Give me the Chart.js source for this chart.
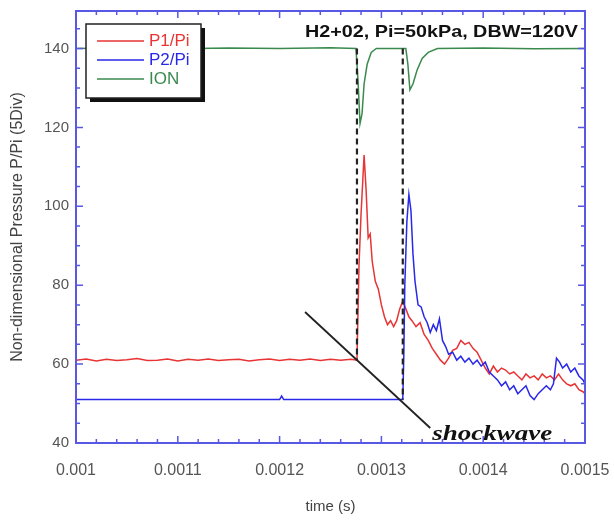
<!DOCTYPE html>
<html>
<head>
<meta charset="utf-8">
<script src="https://cdn.jsdelivr.net/npm/chart.js@4.4.0/dist/chart.umd.min.js"></script>
<style>
  html, body { margin: 0; padding: 0; background: #fff; }
  #wrap { width: 614px; height: 520px; }
</style>
</head>
<body>
<div id="wrap"><canvas id="shockChart"></canvas></div>
<script>
// tick labels
const xTicks = [0.001, 0.0011, 0.0012, 0.0013, 0.0014, 0.0015];
const yTicks = [40, 60, 80, 100, 120, 140];

// P1/Pi (red)
const tP1 = [0.00100, 0.00101, 0.00102, 0.00103, 0.00104, 0.00105, 0.00106, 0.00107, 0.00108, 0.00109,
  0.00110, 0.00111, 0.00112, 0.00113, 0.00114, 0.00115, 0.00116, 0.00117, 0.00118, 0.00119,
  0.00120, 0.00121, 0.00122, 0.00123, 0.00124, 0.00125, 0.00126, 0.00127, 0.001276,
  0.001278, 0.001280, 0.001283, 0.001285, 0.001287, 0.001289, 0.001291, 0.001294, 0.001297, 0.001300,
  0.001303, 0.001306, 0.001309, 0.001312, 0.001315, 0.001318, 0.001321, 0.001324, 0.001327, 0.001330,
  0.001334, 0.001338, 0.001342, 0.001346, 0.001350, 0.001354, 0.001358, 0.001362, 0.001366, 0.001370,
  0.001374, 0.001378, 0.001382, 0.001386, 0.001390, 0.001394, 0.001398, 0.001402, 0.001406, 0.001410,
  0.001414, 0.001418, 0.001422, 0.001426, 0.001430, 0.001434, 0.001438, 0.001442, 0.001446, 0.001450,
  0.001454, 0.001458, 0.001462, 0.001466, 0.001470, 0.001474, 0.001478, 0.001482, 0.001486, 0.001490,
  0.001494, 0.001498, 0.001500];
const p1 = [61.0, 61.3, 60.8, 61.2, 60.9, 61.1, 61.4, 60.9, 61.0, 61.3,
  60.8, 61.2, 61.0, 61.3, 60.9, 61.1, 61.2, 60.8, 61.1, 61.3,
  60.9, 61.2, 61.0, 61.3, 60.9, 61.2, 61.0, 61.2, 61.0,
  85, 98, 113, 104, 92, 93, 86, 81, 79, 75,
  72, 70, 71, 69.5, 71, 74, 76, 74, 72, 71,
  69.5, 70.5, 67.5, 66, 64, 62.5, 61, 60, 61.5, 63.5,
  64, 66, 65, 65.5, 64, 63, 61, 59, 57.5, 59.5,
  58, 59, 58.5, 57.5, 58, 57, 56, 57.5, 56.5, 57,
  56, 57.5, 56.5, 57, 56, 57.5, 56, 55, 54.5, 55,
  53.5, 53, 52.5];

// P2/Pi (blue)
const tP2 = [0.00100, 0.00120, 0.001202, 0.001204, 0.001321,
  0.001322, 0.001323, 0.001325, 0.001327, 0.001329, 0.001331, 0.001333, 0.001336, 0.001339, 0.001342,
  0.001345, 0.001348, 0.001351, 0.001354, 0.001357, 0.001360, 0.001363, 0.001366, 0.001370, 0.001374,
  0.001378, 0.001382, 0.001386, 0.001390, 0.001394, 0.001398, 0.001402, 0.001406, 0.001410, 0.001414,
  0.001418, 0.001422, 0.001426, 0.001430, 0.001434, 0.001438, 0.001442, 0.001446, 0.001450, 0.001454,
  0.001458, 0.001462, 0.001466, 0.001469, 0.001472, 0.001475, 0.001478, 0.001482, 0.001486, 0.001490,
  0.001494, 0.001498, 0.001500];
const p2 = [51, 51, 51.9, 51, 51,
  62, 80, 96, 103, 99, 88, 81, 75, 74.5, 72,
  70.5, 68, 70, 68.5, 71.5, 66, 64.5, 62.5, 63, 61,
  62, 60.5, 61.5, 60, 61, 59.5, 60.5, 58, 57, 56,
  54.5, 55.5, 53.5, 54.5, 52.5, 53.5, 54.5, 52, 51, 52.5,
  53.5, 54.5, 53.5, 55, 61.5, 60.5, 59, 60, 58, 59,
  57, 56, 55];

// ION (green)
const tIon = [0.00100, 0.00105, 0.00110, 0.00115, 0.00120, 0.00125, 0.001275, 0.001277, 0.001279, 0.001281,
  0.001283, 0.001286, 0.001290, 0.001295, 0.00130, 0.001324, 0.001326, 0.001328, 0.001331, 0.001335,
  0.001340, 0.001346, 0.001355, 0.00140, 0.00145, 0.00150];
const ion = [140, 140.2, 139.9, 140.1, 140, 140.2, 140, 132, 121, 123.5,
  131, 136, 139, 140, 140, 140, 136, 129.5, 131, 134.5,
  137.5, 139, 140, 140.1, 139.9, 140];

// dashed markers and the shockwave pointer
const tDash1 = [0.001276, 0.001276];
const yDash1 = [140, 61];
const tDash2 = [0.001321, 0.001321];
const yDash2 = [140, 51];
const tShock = [0.001225, 0.001348];
const yShock = [73.2, 43.8];

const zip = (xs, ys) => xs.map((x, i) => ({ x: x, y: ys[i] }));

const frameColor = 'rgb(88,88,228)';

function stretchText(ctx, text, x, y, width, align) {
  const w = ctx.measureText(text).width;
  ctx.save();
  ctx.translate(x, y);
  ctx.scale(width / w, 1);
  ctx.textAlign = align;
  ctx.fillText(text, 0, 0);
  ctx.restore();
}

const decor = {
  id: 'decor',
  afterDatasetsDraw(chart) {
    const { ctx, chartArea: a, scales: { x, y } } = chart;
    ctx.save();

    // inward ticks on all four sides
    ctx.strokeStyle = frameColor;
    ctx.lineWidth = 1.5;
    ctx.beginPath();
    for (let i = 0; i <= 25; i++) {
      const px = x.getPixelForValue(0.001 + i * 0.00002);
      const len = i % 5 === 0 ? 7 : 4;
      ctx.moveTo(px, a.bottom); ctx.lineTo(px, a.bottom - len);
      ctx.moveTo(px, a.top); ctx.lineTo(px, a.top + len);
    }
    for (let i = 0; i <= 21; i++) {
      const py = y.getPixelForValue(40 + i * 5);
      const len = i % 4 === 0 ? 7 : 4;
      ctx.moveTo(a.left, py); ctx.lineTo(a.left + len, py);
      ctx.moveTo(a.right, py); ctx.lineTo(a.right - len, py);
    }
    ctx.stroke();

    // frame
    ctx.lineWidth = 2;
    ctx.strokeRect(a.left, a.top, a.right - a.left, a.bottom - a.top);

    // legend box with shadow
    const lx = 86, ly = 24, lw = 115, lh = 74;
    ctx.fillStyle = '#111';
    ctx.fillRect(lx + 4, ly + 4, lw, lh);
    ctx.fillStyle = '#fff';
    ctx.fillRect(lx, ly, lw, lh);
    ctx.strokeStyle = '#222';
    ctx.lineWidth = 1.5;
    ctx.strokeRect(lx, ly, lw, lh);
    ctx.font = '17px "Liberation Sans", Arial, sans-serif';
    ctx.textBaseline = 'middle';
    chart.data.datasets.slice(0, 3).forEach((ds, i) => {
      const ry = ly + 17 + i * 19;
      ctx.strokeStyle = ds.borderColor;
      ctx.lineWidth = 1.5;
      ctx.beginPath();
      ctx.moveTo(lx + 11, ry); ctx.lineTo(lx + 58, ry);
      ctx.stroke();
      ctx.fillStyle = ds.borderColor;
      ctx.textAlign = 'left';
      ctx.fillText(ds.label, lx + 63, ry);
    });

    // title inside plot
    ctx.fillStyle = '#111';
    ctx.font = 'bold 17px "Liberation Sans", Arial, sans-serif';
    ctx.textBaseline = 'alphabetic';
    stretchText(ctx, 'H2+02, Pi=50kPa, DBW=120V', 578, 37, 273, 'right');

    // shockwave annotation
    ctx.font = 'italic bold 22px "Liberation Serif", "Times New Roman", serif';
    stretchText(ctx, 'shockwave', x.getPixelForValue(0.001350), 440, 120, 'left');

    ctx.restore();
  }
};

new Chart(document.getElementById('shockChart'), {
  type: 'line',
  data: {
    datasets: [
      { label: 'P1/Pi', data: zip(tP1, p1), borderColor: 'rgb(232,52,52)', borderWidth: 1.5, order: 3 },
      { label: 'P2/Pi', data: zip(tP2, p2), borderColor: 'rgb(40,40,232)', borderWidth: 1.5, order: 2 },
      { label: 'ION', data: zip(tIon, ion), borderColor: 'rgb(58,138,78)', borderWidth: 1.5, order: 4 },
      { label: 'dash1', data: zip(tDash1, yDash1), borderColor: '#222', borderWidth: 2.2, borderDash: [6, 4], order: 1 },
      { label: 'dash2', data: zip(tDash2, yDash2), borderColor: '#222', borderWidth: 2.2, borderDash: [6, 4], order: 1 },
      { label: 'shock', data: zip(tShock, yShock), borderColor: '#222', borderWidth: 1.8, order: 0 }
    ]
  },
  options: {
    responsive: true,
    maintainAspectRatio: false,
    animation: false,
    layout: { padding: { top: 11, right: 29, left: 0, bottom: 0 } },
    elements: { point: { radius: 0 }, line: { tension: 0 } },
    plugins: { legend: { display: false }, tooltip: { enabled: false } },
    scales: {
      x: {
        type: 'linear',
        min: 0.001,
        max: 0.0015,
        afterBuildTicks: s => { s.ticks = xTicks.map(v => ({ value: v })); },
        afterFit: s => { s.height = 77; s.paddingLeft = 0; s.paddingRight = 0; },
        grid: { display: false, drawTicks: false },
        border: { display: false },
        ticks: {
          padding: 18,
          color: '#555',
          maxRotation: 0,
          autoSkip: false,
          font: { family: '"Liberation Sans", Arial, sans-serif', size: 16 },
          callback: v => String(v)
        },
        title: {
          display: true,
          text: 'time (s)',
          color: '#444',
          font: { family: '"Liberation Sans", Arial, sans-serif', size: 15 },
          padding: { top: 0, bottom: 4 }
        }
      },
      y: {
        min: 40,
        max: 149.5,
        afterBuildTicks: s => { s.ticks = yTicks.map(v => ({ value: v })); },
        afterFit: s => { s.width = 76; s.paddingTop = 0; s.paddingBottom = 0; },
        grid: { display: false, drawTicks: false },
        border: { display: false },
        ticks: {
          padding: 7,
          color: '#555',
          font: { family: '"Liberation Sans", Arial, sans-serif', size: 15 }
        },
        title: {
          display: true,
          text: 'Non-dimensional Pressure P/Pi (5Div)',
          color: '#444',
          font: { family: '"Liberation Sans", Arial, sans-serif', size: 16 },
          padding: { top: 8, bottom: 0 }
        }
      }
    }
  },
  plugins: [decor]
});
</script>
</body>
</html>
